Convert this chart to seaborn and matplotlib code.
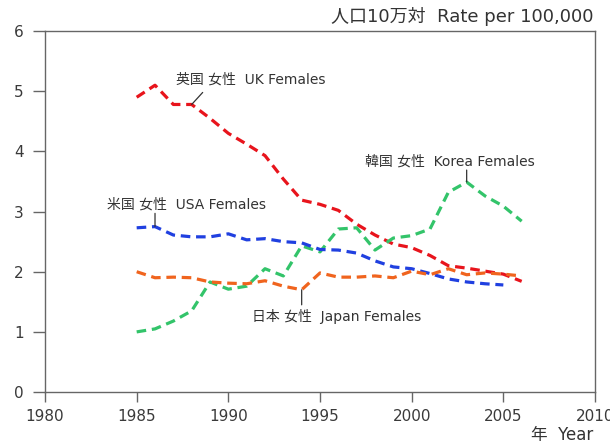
import matplotlib
matplotlib.use("Agg")
import matplotlib.pyplot as plt
import seaborn as sns
import pandas as pd

# data
years = list(range(1985, 2007))
uk = [4.90, 5.10, 4.78, 4.78, 4.55, 4.30, 4.12, 3.93, 3.54, 3.19, 3.12, 3.02,
      2.79, 2.61, 2.46, 2.40, 2.27, 2.10, 2.06, 2.01, 1.96, 1.84]
korea = [1.00, 1.05, 1.18, 1.35, 1.83, 1.71, 1.76, 2.05, 1.93, 2.43, 2.33, 2.71,
         2.73, 2.36, 2.56, 2.60, 2.71, 3.32, 3.49, 3.26, 3.09, 2.84]
usa_years = list(range(1985, 2006))
usa = [2.73, 2.75, 2.61, 2.58, 2.58, 2.63, 2.53, 2.55, 2.50, 2.48, 2.37, 2.36,
       2.31, 2.18, 2.08, 2.05, 1.97, 1.88, 1.83, 1.80, 1.78]
japan = [2.00, 1.90, 1.91, 1.90, 1.83, 1.81, 1.80, 1.85, 1.76, 1.70, 1.98, 1.91,
         1.91, 1.93, 1.90, 2.01, 1.95, 2.05, 1.95, 1.98, 1.96, 1.93]

labels = ["英国 女性  UK Females", "韓国 女性  Korea Females",
          "米国 女性  USA Females", "日本 女性  Japan Females"]
colors = ["#e8141c", "#33c46a", "#2040e0", "#f0641e"]

sns.set_style("white")
plt.rcParams['font.family'] = ['DejaVu Sans', 'Noto Sans CJK JP']

fig = plt.figure(figsize=(6.10, 4.44), dpi=100)
ax = fig.add_axes([0.0738, 0.117, 0.9016, 0.813])

series = [(years, uk), (years, korea), (usa_years, usa), (years, japan)]
for (xs, ys), col in zip(series, colors):
    df = pd.DataFrame({"year": xs, "rate": ys})
    sns.lineplot(data=df, x="year", y="rate", color=col, lw=2.3,
                 linestyle=(0, (3, 1.8)), ax=ax)

ax.set_xlim(1980, 2010)
ax.set_ylim(0, 6)
ax.set_xticks(range(1980, 2011, 5))
ax.set_yticks(range(0, 7))
ax.set_xlabel("")
ax.set_ylabel("")
for s in ax.spines.values():
    s.set_color("#666666")
    s.set_linewidth(1.0)
ax.tick_params(axis="both", direction="out", width=1.0, bottom=True, left=True,
               color="#666666", labelcolor="#3a3a3a", labelsize=11)
ax.tick_params(axis="x", length=7.5, pad=4.5)
ax.tick_params(axis="y", length=9, pad=6.5)

tc = "#333333"
fs = 10
lc = dict(arrowstyle="-", color="#333333", lw=0.9, shrinkA=0, shrinkB=0)

# labels (left edge, vertical centre) and leader lines (point -> label)
ax.text(1987.15, 5.19, labels[0], color=tc, fontsize=fs, ha="left", va="center")
ax.annotate("", xy=(1988, 4.78), xytext=(1988.6, 4.98), arrowprops=lc)

ax.text(1997.46, 3.84, labels[1], color=tc, fontsize=fs, ha="left", va="center")
ax.annotate("", xy=(2003, 3.49), xytext=(2003, 3.69), arrowprops=lc)

ax.text(1983.38, 3.11, labels[2], color=tc, fontsize=fs, ha="left", va="center")
ax.annotate("", xy=(1986, 2.75), xytext=(1986, 2.97), arrowprops=lc)

ax.text(1991.29, 1.25, labels[3], color=tc, fontsize=fs, ha="left", va="center")
ax.annotate("", xy=(1994, 1.70), xytext=(1994, 1.45), arrowprops=lc)

fig.text(0.973, 0.963, "人口10万対  Rate per 100,000", ha="right", va="center",
         fontsize=13, color=tc)
fig.text(0.973, 0.02, "年  Year", ha="right", va="center",
         fontsize=12, color=tc)

fig.savefig("out.png", dpi=100)
